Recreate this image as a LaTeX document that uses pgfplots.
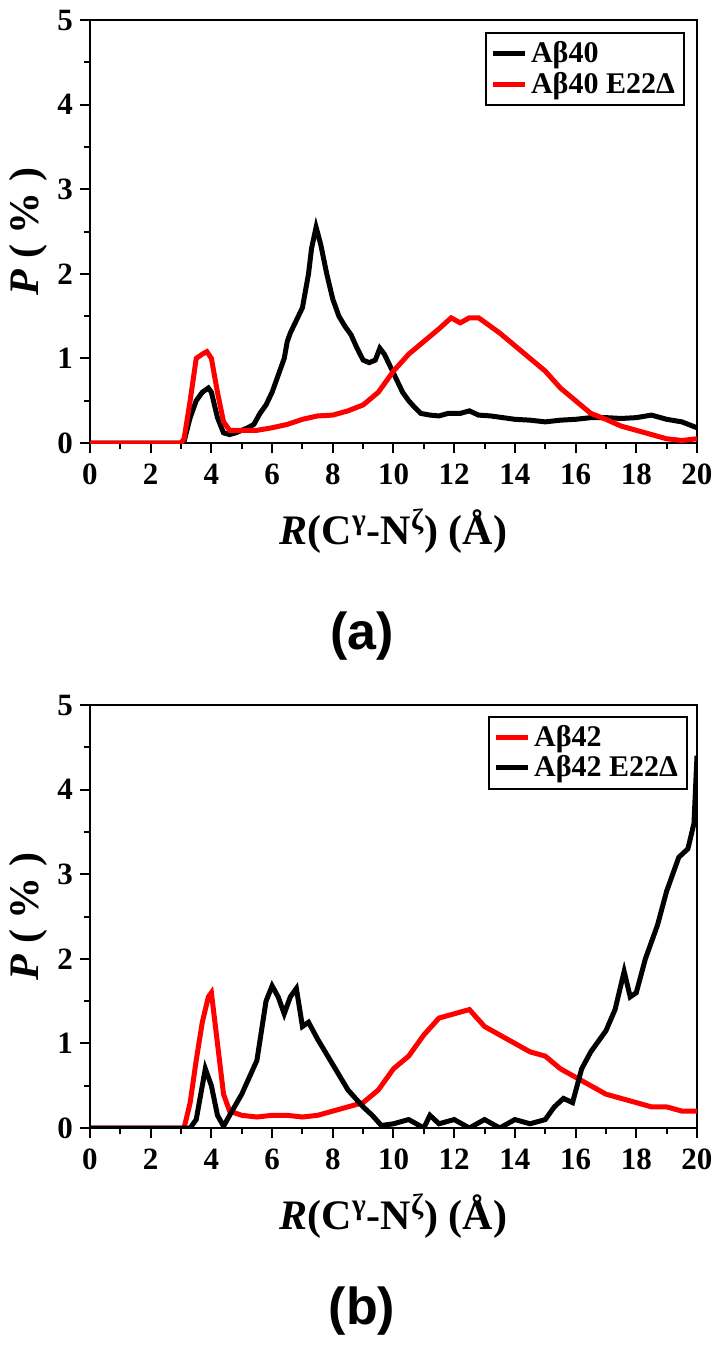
\documentclass[border=0pt]{standalone}
\usepackage{pgfplots}
\pgfplotsset{compat=1.18}
\usepackage{fontspec}
\setmainfont{Liberation Serif}
\newfontfamily\panelfont{Liberation Sans}
\begin{document}
\begin{tikzpicture}
\pgfplotsset{
  myaxis/.style={
    scale only axis, width=303.5pt, height=211.5pt,
    xmin=0, xmax=20, ymin=0, ymax=5,
    xtick={0,2,...,20}, ytick={0,1,...,5},
    minor xtick={1,3,...,19}, minor ytick={0.5,1.5,...,4.5},
    tick pos=left, tick align=outside,
    major tick length=5pt, minor tick length=3pt,
    every tick/.style={black, line width=1pt},
    axis line style={line width=1.2pt},
    /pgf/number format/assume math mode=true,
    ticklabel style={font=\bfseries\fontsize{15.5}{17}\selectfont},
    xticklabel style={yshift=-2pt},
    xlabel={\textbf{\textit{R}(C\textsuperscript{γ}-N\textsuperscript{ζ}) (Å)}},
    ylabel={\textbf{\textit{P} ( \% )}},
    label style={font=\fontsize{21}{24}\selectfont},
    xlabel style={yshift=-5pt},
    ylabel style={yshift=-2pt},
    legend style={draw=black, line width=1pt, font=\bfseries\fontsize{15}{17.5}\selectfont,
      anchor=north east, cells={anchor=west}, inner sep=2.5pt, row sep=-1pt},
    legend image code/.code={\draw[line width=2.5pt] (0cm,0cm) -- (0.55cm,0cm);},
  }
}
\path[use as bounding box] (-45pt,-454pt) rectangle (315.5pt,221.5pt);
\begin{axis}[myaxis, at={(0,0)}, anchor=south west,
  legend style={at={(0.98,0.972)}}]
\addplot[black, line width=2.5pt] coordinates {
(0,0) (3.0,0) (3.1,0.02) (3.3,0.3) (3.5,0.5) (3.7,0.6) (3.9,0.65) (4.0,0.6) (4.2,0.3) (4.4,0.12) (4.6,0.1) (4.8,0.12) (5.0,0.15) (5.2,0.18) (5.4,0.22) (5.6,0.35) (5.8,0.45) (6.0,0.6) (6.2,0.8) (6.4,1.0) (6.5,1.2) (6.6,1.3) (6.8,1.45) (7.0,1.6) (7.1,1.8) (7.2,2.0) (7.3,2.3) (7.45,2.55) (7.6,2.35) (7.8,2.0) (8.0,1.7) (8.2,1.5) (8.4,1.38) (8.6,1.28) (8.8,1.12) (9.0,0.98) (9.2,0.95) (9.4,0.98) (9.55,1.12) (9.7,1.05) (9.9,0.9) (10.1,0.75) (10.3,0.6) (10.5,0.5) (10.7,0.42) (10.9,0.35) (11.2,0.33) (11.5,0.32) (11.8,0.35) (12.2,0.35) (12.5,0.38) (12.8,0.33) (13.2,0.32) (13.6,0.3) (14,0.28) (14.5,0.27) (15,0.25) (15.5,0.27) (16,0.28) (16.5,0.3) (17,0.3) (17.5,0.29) (18,0.3) (18.5,0.33) (19,0.28) (19.5,0.25) (20,0.18)
};
\addlegendentry{Aβ40}
\addplot[red, line width=2.5pt] coordinates {
(0,0) (3.0,0) (3.1,0.05) (3.3,0.5) (3.5,1.0) (3.7,1.05) (3.85,1.08) (4.0,1.0) (4.2,0.6) (4.4,0.25) (4.6,0.15) (5.0,0.15) (5.5,0.15) (6.0,0.18) (6.5,0.22) (7.0,0.28) (7.5,0.32) (8.0,0.33) (8.5,0.38) (9.0,0.45) (9.5,0.6) (10.0,0.85) (10.5,1.05) (11.0,1.2) (11.5,1.35) (11.9,1.48) (12.2,1.42) (12.5,1.48) (12.8,1.48) (13.0,1.43) (13.5,1.3) (14.0,1.15) (14.5,1.0) (15.0,0.85) (15.5,0.65) (16.0,0.5) (16.5,0.35) (17.0,0.28) (17.5,0.2) (18.0,0.15) (18.5,0.1) (19.0,0.05) (19.5,0.03) (20,0.05)
};
\addlegendentry{Aβ40 E22Δ}
\end{axis}
\node[font=\panelfont\bfseries\fontsize{26}{30}\selectfont] at (136pt,-96.5pt) {(a)};
\begin{axis}[myaxis, at={(0,-342.5pt)}, anchor=south west,
  legend style={at={(0.985,0.975)}}]
\addplot[red, line width=2.5pt] coordinates {
(0,0) (3.1,0) (3.3,0.3) (3.5,0.8) (3.7,1.25) (3.9,1.55) (4.0,1.6) (4.2,1.0) (4.4,0.4) (4.6,0.2) (5.0,0.15) (5.5,0.13) (6,0.15) (6.5,0.15) (7,0.13) (7.5,0.15) (8,0.2) (8.5,0.25) (9,0.3) (9.5,0.45) (10,0.7) (10.5,0.85) (11,1.1) (11.5,1.3) (12,1.35) (12.5,1.4) (13,1.2) (13.5,1.1) (14,1.0) (14.5,0.9) (15,0.85) (15.5,0.7) (16,0.6) (16.5,0.5) (17,0.4) (17.5,0.35) (18,0.3) (18.5,0.25) (19,0.25) (19.5,0.2) (20,0.2)
};
\addlegendentry{Aβ42}
\addplot[black, line width=2.5pt] coordinates {
(0,0) (3.3,0) (3.5,0.1) (3.8,0.7) (4.0,0.5) (4.2,0.15) (4.4,0.02) (4.6,0.15) (5.0,0.4) (5.5,0.8) (5.8,1.5) (6.0,1.68) (6.2,1.55) (6.4,1.35) (6.6,1.55) (6.8,1.65) (7.0,1.2) (7.2,1.25) (7.5,1.05) (8.0,0.75) (8.5,0.45) (9.0,0.25) (9.3,0.15) (9.6,0.03) (10,0.05) (10.5,0.1) (11,0.0) (11.2,0.15) (11.5,0.05) (12,0.1) (12.5,0.0) (13,0.1) (13.5,0.0) (14,0.1) (14.5,0.05) (15,0.1) (15.3,0.25) (15.6,0.35) (15.9,0.3) (16.2,0.7) (16.5,0.9) (17,1.15) (17.3,1.4) (17.6,1.85) (17.8,1.55) (18,1.6) (18.3,2.0) (18.7,2.4) (19.0,2.8) (19.4,3.2) (19.7,3.3) (19.9,3.6) (20,4.4)
};
\addlegendentry{Aβ42 E22Δ}
\end{axis}
\node[font=\panelfont\bfseries\fontsize{26}{30}\selectfont] at (136pt,-434pt) {(b)};
\end{tikzpicture}
\end{document}
